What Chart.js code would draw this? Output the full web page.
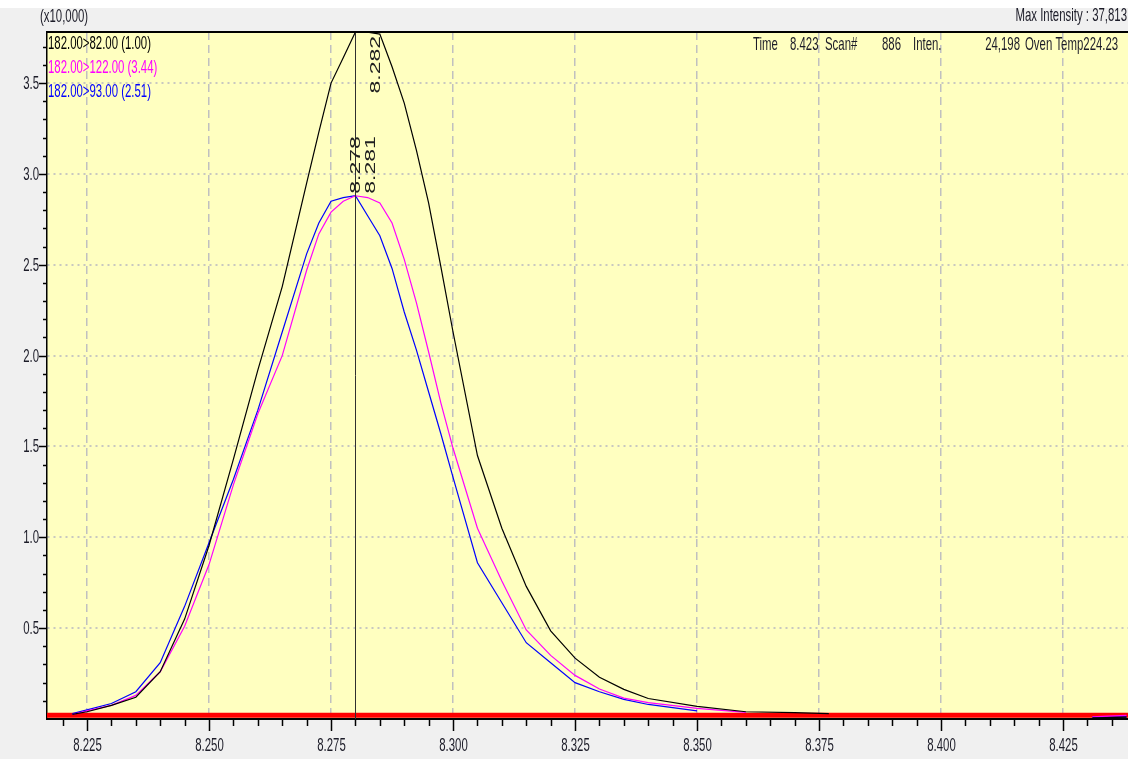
<!DOCTYPE html>
<html>
<head>
<meta charset="utf-8">
<script src="https://cdn.jsdelivr.net/npm/chart.js@4/dist/chart.umd.min.js"></script>
<style>
  html, body { margin:0; padding:0; background:#f0f0f0; }
  #wrap { width:1128px; height:759px; }
</style>
</head>
<body>
<div id="wrap"><canvas id="chrom" width="1128" height="759"></canvas></div>
<script>
// retention times (min) shared by all three traces
const times = [8.222, 8.225, 8.230, 8.235, 8.240, 8.245, 8.250, 8.255, 8.260, 8.265,
  8.270, 8.2725, 8.275, 8.2775, 8.280, 8.2825, 8.285, 8.2875, 8.290, 8.2925,
  8.295, 8.2975, 8.300, 8.305, 8.310, 8.315, 8.320, 8.325, 8.330, 8.335,
  8.340, 8.350, 8.360, 8.370, 8.377, 8.400, 8.431, 8.434, 8.438];
// intensities in units of 10,000
const ion82 = [0.025, 0.04, 0.075, 0.12, 0.26, 0.55, 0.955, 1.43, 1.92, 2.38,
  2.95, 3.23, 3.50, 3.64, 3.7813, 3.78, 3.77, 3.59, 3.39, 3.13,
  2.84, 2.49, 2.13, 1.45, 1.05, 0.73, 0.485, 0.335, 0.23, 0.163,
  0.113, 0.07, 0.04, 0.035, 0.03, null, 0.006, 0.008, 0.01];
const ion122 = [0.025, 0.045, 0.075, 0.13, 0.26, 0.51, 0.85, 1.29, 1.68, 2.00,
  2.47, 2.67, 2.79, 2.85, 2.88, 2.87, 2.84, 2.73, 2.53, 2.29,
  2.02, 1.74, 1.49, 1.05, 0.76, 0.49, 0.35, 0.24, 0.165, 0.115,
  0.09, 0.058, 0.036, null, null, null, 0.012, 0.016, 0.02];
const ion93 = [0.03, 0.05, 0.085, 0.15, 0.31, 0.62, 0.97, 1.32, 1.70, 2.13,
  2.56, 2.73, 2.85, 2.87, 2.88, 2.77, 2.66, 2.48, 2.24, 2.03,
  1.80, 1.57, 1.33, 0.86, 0.64, 0.42, 0.31, 0.20, 0.15, 0.108,
  0.08, 0.045, null, null, null, null, 0.01, 0.01, 0.012];
const baselineTimes = [8.2168, 8.4383];
const baselineValues = [0.02, 0.02];

const traceNames = ['182.00>82.00 (1.00)', '182.00>122.00 (3.44)', '182.00>93.00 (2.51)'];
const traceColors = ['#000000', '#ff00ff', '#0000ff'];
const peakLabels = ['8.282', '8.281', '8.278'];
const peakTimes = [8.282, 8.281, 8.278];

const maxIntensity = 37813;
const cursorTime = 8.280;
const xMin = 8.2168, xMax = 8.4383;

const SQ = 0.6; // horizontal squeeze of the screenshot text
const FONT = '19px "Liberation Sans", Arial, sans-serif';
const TXT = '#1c1c28';

function pts(xs, ys){ return xs.map((x,i) => ({x:x, y:ys[i]})); }
function isMajor(v, step){ const r = v/step; return Math.abs(r - Math.round(r)) < 1e-6; }

function squeezed(ctx, text, x, y, align, color){
  ctx.save();
  ctx.translate(x, y);
  ctx.scale(SQ, 1);
  ctx.font = FONT;
  ctx.fillStyle = color || TXT;
  ctx.textAlign = align || 'left';
  ctx.textBaseline = 'middle';
  ctx.fillText(text, 0, 0);
  ctx.restore();
}

const chromPlugin = {
  id: 'chrom',
  beforeDraw(chart){
    const {ctx, chartArea:a} = chart;
    ctx.save();
    ctx.fillStyle = '#f0f0f0';
    ctx.fillRect(0, 0, chart.width, chart.height);
    ctx.fillStyle = '#ffffff';
    ctx.fillRect(0, 0, chart.width, 8);
    ctx.fillStyle = '#ffffc0';
    ctx.fillRect(a.left, a.top, a.right - a.left, a.bottom - a.top);
    ctx.restore();
  },
  afterDatasetsDraw(chart){
    const {ctx, chartArea:a, scales:{x, y}} = chart;
    ctx.save();
    // cursor
    const cx = Math.round(x.getPixelForValue(cursorTime)) + 0.5;
    ctx.strokeStyle = '#303030';
    ctx.lineWidth = 1;
    ctx.beginPath(); ctx.moveTo(cx, a.top); ctx.lineTo(cx, a.bottom); ctx.stroke();
    // peak labels, rotated
    chart.data.datasets.slice(0, 3).forEach((ds, i) => {
      const top = Math.max(...ds.data.filter(p => p.y != null).map(p => p.y));
      const px = x.getPixelForValue(peakTimes[i]);
      ctx.save();
      ctx.font = '23px "Liberation Sans", Arial, sans-serif';
      const w = ctx.measureText(peakLabels[i]).width;
      let py = y.getPixelForValue(top) - 2;
      py = Math.max(py, a.top + w + 4);
      ctx.translate(px + 4, py);
      ctx.scale(SQ, 1);
      ctx.rotate(-Math.PI / 2);
      ctx.fillStyle = '#202020';
      ctx.textAlign = 'left';
      ctx.textBaseline = 'top';
      ctx.fillText(peakLabels[i], 0, 0);
      ctx.restore();
    });
    // legend
    chart.data.datasets.slice(0, 3).forEach((ds, i) => {
      squeezed(ctx, ds.label, a.left + 1, 44 + i * 24, 'left', ds.borderColor);
    });
    // info row
    squeezed(ctx, 'Time', 753, 45);
    squeezed(ctx, '8.423', 790, 45);
    squeezed(ctx, 'Scan#', 825, 45);
    squeezed(ctx, '886', 882, 45);
    squeezed(ctx, 'Inten.', 913, 45);
    squeezed(ctx, '24,198', 1020, 45, 'right');
    squeezed(ctx, 'Oven Temp224.23', 1025, 45);
    // top frame
    ctx.strokeStyle = '#000';
    ctx.lineWidth = 2;
    ctx.beginPath(); ctx.moveTo(a.left, a.top); ctx.lineTo(a.right, a.top); ctx.stroke();
    ctx.restore();
  },
  afterDraw(chart){
    const {ctx, chartArea:a, scales:{x, y}} = chart;
    ctx.save();
    ctx.strokeStyle = '#000';
    ctx.lineWidth = 1.5;
    x.ticks.forEach(t => {
      const px = Math.round(x.getPixelForValue(t.value)) + 0.5;
      const major = t.label !== '';
      ctx.beginPath(); ctx.moveTo(px, a.bottom); ctx.lineTo(px, a.bottom + (major ? 12 : 7)); ctx.stroke();
      if (major) squeezed(ctx, t.label, px, 746, 'center');
    });
    y.ticks.forEach(t => {
      if (t.value <= 0) return;
      const py = Math.round(y.getPixelForValue(t.value)) + 0.5;
      const major = t.label !== '';
      ctx.beginPath(); ctx.moveTo(a.left - (major ? 8 : 4), py); ctx.lineTo(a.left, py); ctx.stroke();
      if (major) squeezed(ctx, t.label, a.left - 8, py, 'right');
    });
    squeezed(ctx, '(x10,000)', 40, 17);
    squeezed(ctx, 'Max Intensity : ' + maxIntensity.toLocaleString('en-US'), 1127, 16, 'right');
    ctx.restore();
  }
};

const datasets = [ion82, ion122, ion93].map((vals, i) => ({
  label: traceNames[i],
  data: pts(times, vals),
  borderColor: traceColors[i],
  borderWidth: 1.2,
  pointRadius: 0,
  tension: 0,
  spanGaps: false
}));
datasets.push({
  label: 'baseline',
  data: pts(baselineTimes, baselineValues),
  borderColor: '#ff0000',
  borderWidth: 5,
  pointRadius: 0
});

new Chart(document.getElementById('chrom'), {
  type: 'line',
  data: { datasets: datasets },
  options: {
    responsive: false,
    animation: false,
    devicePixelRatio: 1,
    layout: { padding: { top: 32, right: 0, left: 0, bottom: 0 } },
    plugins: { legend: { display: false }, tooltip: { enabled: false } },
    scales: {
      x: {
        type: 'linear',
        min: xMin, max: xMax,
        afterFit: s => { s.height = 40; },
        ticks: {
          display: false,
          stepSize: 0.005,
          includeBounds: false,
          autoSkip: false,
          callback: v => isMajor(v, 0.025) ? v.toFixed(3) : ''
        },
        grid: {
          drawTicks: false,
          lineWidth: 1.5,
          color: c => (c.tick && isMajor(c.tick.value, 0.025)) ? '#c0c0c0' : 'rgba(0,0,0,0)'
        },
        border: { display: true, color: '#000', width: 2, dash: [8, 5] }
      },
      y: {
        min: 0, max: maxIntensity / 10000,
        afterFit: s => { s.width = 47; },
        ticks: {
          display: false,
          stepSize: 0.1,
          includeBounds: false,
          autoSkip: false,
          callback: v => (v > 0 && isMajor(v, 0.5)) ? v.toFixed(1) : ''
        },
        grid: {
          drawTicks: false,
          lineWidth: 2,
          color: c => (c.tick && c.tick.value > 0 && isMajor(c.tick.value, 0.5)) ? '#c8c8c0' : 'rgba(0,0,0,0)'
        },
        border: { display: true, color: '#000', width: 1.5, dash: [2, 4] }
      }
    }
  },
  plugins: [chromPlugin]
});
</script>
</body>
</html>
